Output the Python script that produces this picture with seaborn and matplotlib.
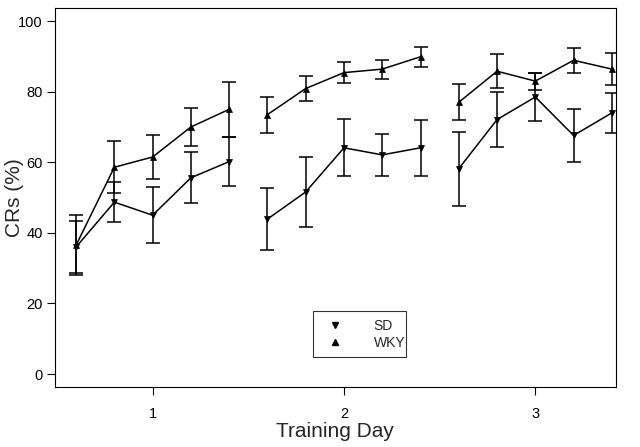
import pandas as pd
import numpy as np
import seaborn as sns
import matplotlib.pyplot as plt
from matplotlib.lines import Line2D

sns.set_style("ticks")
plt.rcParams['font.family'] = ['Liberation Sans', 'DejaVu Sans']

# block positions: 5 blocks per training day
block_x = [0.6, 0.8, 1.0, 1.2, 1.4,
           1.6, 1.8, 2.0, 2.2, 2.4,
           2.6, 2.8, 3.0, 3.2, 3.4]
day = [1] * 5 + [2] * 5 + [3] * 5

sd_mean = [36.0, 48.7, 45.0, 55.6, 60.2,
           43.9, 51.6, 64.1, 62.1, 64.1,
           58.2, 72.1, 78.5, 67.6, 74.0]
sd_err = [7.5, 5.6, 8.0, 7.2, 6.9,
          8.7, 10.0, 8.1, 5.9, 7.9,
          10.5, 7.7, 6.8, 7.5, 5.7]

wky_mean = [36.5, 58.6, 61.5, 70.0, 75.0,
            73.5, 80.9, 85.4, 86.4, 89.9,
            77.0, 85.8, 83.0, 88.9, 86.4]
wky_err = [8.5, 7.4, 6.3, 5.4, 7.7,
           5.1, 3.6, 2.9, 2.7, 2.9,
           5.1, 4.8, 2.4, 3.5, 4.5]

df = pd.concat([
    pd.DataFrame({"x": block_x, "day": day, "CR": sd_mean, "err": sd_err, "group": "SD"}),
    pd.DataFrame({"x": block_x, "day": day, "CR": wky_mean, "err": wky_err, "group": "WKY"}),
])

fig, ax = plt.subplots(figsize=(6.4, 4.47), dpi=100)
plt.subplots_adjust(left=0.086, right=0.962, bottom=0.134, top=0.982)

sns.lineplot(data=df, x="x", y="CR", style="group", units="day", estimator=None,
             markers={"SD": "v", "WKY": "^"}, dashes=False, color="black",
             markersize=5, markeredgecolor="black", markeredgewidth=0.5,
             linewidth=1.1, ax=ax, legend=False)

for g, d in df.groupby("group"):
    ax.errorbar(d["x"], d["CR"], yerr=d["err"], fmt="none", ecolor="black",
                elinewidth=1.1, capsize=5, capthick=1.1)

# legend with markers only
handles = [Line2D([], [], marker="v", color="black", linestyle="none", markersize=5),
           Line2D([], [], marker="^", color="black", linestyle="none", markersize=5)]
leg = ax.legend(handles, ["SD", "WKY"], loc="lower left", bbox_to_anchor=(0.448, 0.06, 0.191, 0.118),
                mode="expand", frameon=True, fancybox=False, fontsize=10, handletextpad=1.8,
                borderpad=0.55, labelspacing=0.2, edgecolor="black")
leg.get_frame().set_linewidth(0.8)

ax.set_xlim(0.49, 3.42)
ax.set_ylim(-3.7, 103.7)
ax.set_xticks([1, 2, 3])
ax.set_yticks([0, 20, 40, 60, 80, 100])
ax.tick_params(labelsize=10.5, length=6, width=0.8, colors="black", pad=3)
ax.tick_params(axis="x", pad=8)
for s in ax.spines.values():
    s.set_visible(True)
    s.set_linewidth(0.8)
    s.set_color("black")
ax.set_xlabel("Training Day", fontsize=15, labelpad=1)
ax.set_ylabel("CRs (%)", fontsize=15)
ax.yaxis.set_label_coords(-0.055, 0.5)

fig.savefig("out.png", dpi=100)
